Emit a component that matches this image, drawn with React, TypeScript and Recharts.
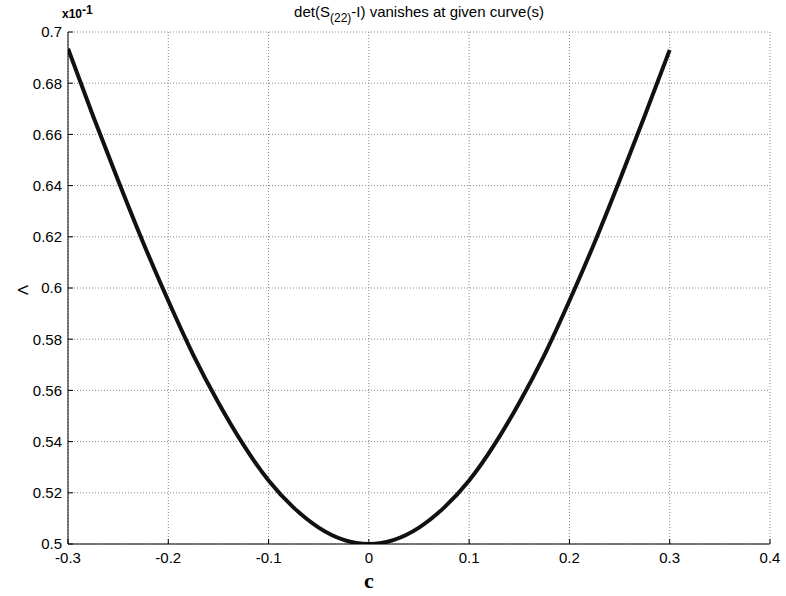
import { LineChart, Line, XAxis, YAxis, CartesianGrid } from 'recharts'

// c values and the matching Lambda (x10^-1) values
const cValues = [
  -0.3, -0.275, -0.25, -0.225, -0.2, -0.175, -0.15, -0.125, -0.1, -0.075, -0.05, -0.025, 0,
  0.025, 0.05, 0.075, 0.1, 0.125, 0.15, 0.175, 0.2, 0.225, 0.25, 0.275, 0.3,
]
const lambdaValues = [
  0.6935, 0.6672, 0.642, 0.6177, 0.595, 0.5738, 0.5552, 0.5387, 0.5248, 0.5142, 0.5064, 0.5016, 0.5,
  0.5016, 0.5064, 0.5142, 0.5248, 0.5387, 0.5552, 0.5738, 0.595, 0.6177, 0.642, 0.6672, 0.693,
]
const xTicks = [-0.3, -0.2, -0.1, 0, 0.1, 0.2, 0.3, 0.4]
const yTicks = [0.5, 0.52, 0.54, 0.56, 0.58, 0.6, 0.62, 0.64, 0.66, 0.68, 0.7]

const data = cValues.map((c, i) => ({ c, lambda: lambdaValues[i] }))

const FONT = '"Liberation Sans", Arial, sans-serif'
const blank = () => ''

export default function App() {
  return (
    <div style={{ position: 'absolute', left: 0, top: 0, width: 786, height: 596, background: '#fff' }}>
      <LineChart width={786} height={596} data={data} margin={{ top: 32, right: 16, left: 8, bottom: 22 }}>
        <CartesianGrid xAxisId="bottom" yAxisId="left" stroke="#888" strokeDasharray="1 2" />
        <XAxis
          xAxisId="bottom"
          dataKey="c"
          type="number"
          domain={[-0.3, 0.4]}
          ticks={xTicks}
          allowDataOverflow
          height={30}
          stroke="#000"
          tickSize={-5}
          tickMargin={13}
          tick={{ fill: '#000', fontSize: 15, fontFamily: FONT }}
        />
        <XAxis
          xAxisId="top"
          orientation="top"
          dataKey="c"
          type="number"
          domain={[-0.3, 0.4]}
          ticks={xTicks}
          height={0}
          stroke="#000"
          tickSize={-5}
          tickFormatter={blank}
        />
        <YAxis
          yAxisId="left"
          type="number"
          domain={[0.5, 0.7]}
          ticks={yTicks}
          allowDataOverflow
          width={60}
          stroke="#000"
          tickSize={-5}
          tickMargin={11}
          tick={{ fill: '#000', fontSize: 15, fontFamily: FONT }}
        />
        <YAxis
          yAxisId="right"
          orientation="right"
          type="number"
          domain={[0.5, 0.7]}
          ticks={yTicks}
          width={0}
          stroke="#000"
          tickSize={-5}
          tickFormatter={blank}
        />
        <Line
          xAxisId="bottom"
          yAxisId="left"
          type="natural"
          dataKey="lambda"
          stroke="#111"
          strokeWidth={4}
          dot={false}
          isAnimationActive={false}
        />
        <text x={419} y={17} textAnchor="middle" fontFamily={FONT} fontSize={15} fill="#000">
          det(S<tspan dy={5} fontSize={12}>(22)</tspan><tspan dy={-5}>-I) vanishes at given curve(s)</tspan>
        </text>
        <text x={62} y={18} fontFamily={FONT} fontSize={12} fontWeight="bold" fill="#000">
          x10<tspan dy={-4}>-1</tspan>
        </text>
        <g transform="translate(22 290) rotate(-90)">
          <text x={0} y={0} textAnchor="middle" dominantBaseline="central" fontFamily={FONT} fontSize={15} fill="#000">
            Λ
          </text>
        </g>
        <text x={369} y={588} textAnchor="middle" fontFamily='"Liberation Serif", "Times New Roman", serif' fontSize={22} fontWeight="bold" fill="#000">
          c
        </text>
      </LineChart>
    </div>
  )
}
